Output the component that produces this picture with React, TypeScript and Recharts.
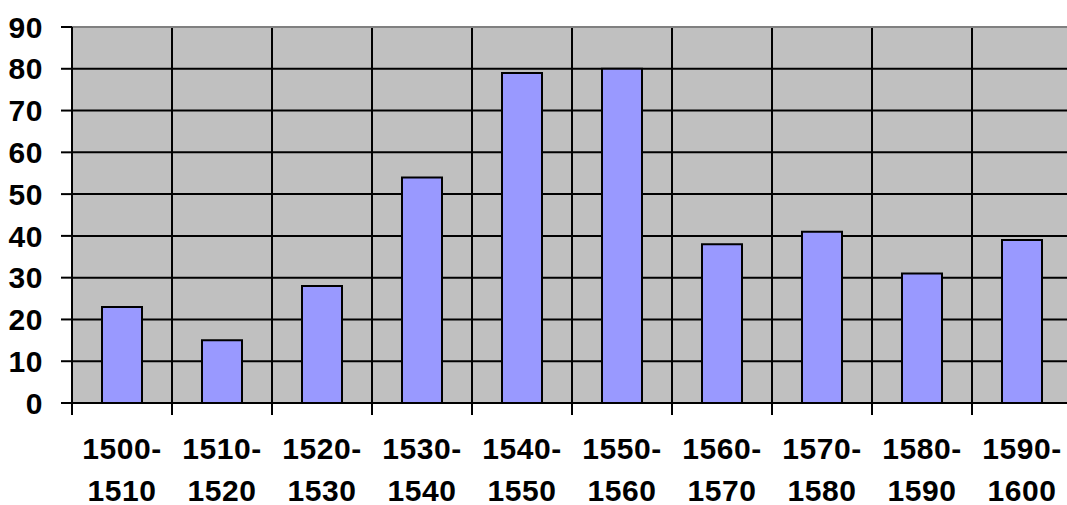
import React from 'react';
import { BarChart, Bar, XAxis, YAxis, CartesianGrid, ReferenceLine } from 'recharts';

const periodStarts = ['1500', '1510', '1520', '1530', '1540', '1550', '1560', '1570', '1580', '1590'];
const periodEnds = ['1510', '1520', '1530', '1540', '1550', '1560', '1570', '1580', '1590', '1600'];
const counts = [23, 15, 28, 54, 79, 80, 38, 41, 31, 39];
const yTicks = [0, 10, 20, 30, 40, 50, 60, 70, 80, 90];
const boundaryTicks = [0, 1, 2, 3, 4, 5, 6, 7, 8, 9, 10];

const data = periodStarts.map((s, i) => ({
    period: `${s}-${periodEnds[i]}`,
    idx: i,
    count: counts[i],
}));

const FONT = '"Liberation Sans", Arial, sans-serif';

// two-line period label: "1500-" over "1510"
const PeriodTick = (props: any) => {
    const { x, y, payload } = props;
    const [a, b] = String(payload.value).split('-');
    return (
        <text x={x} y={y} textAnchor="middle" fill="#000" fontFamily={FONT} fontWeight="bold" fontSize={30} letterSpacing={0.6}>
            <tspan x={x} dy={55}>{a}-</tspan>
            <tspan x={x} dy={42}>{b}</tspan>
        </text>
    );
};

const App: React.FC = () => {
    return (
        <div style={{ position: 'absolute', left: 0, top: 0, width: 1067, height: 505, overflow: 'hidden', background: '#fff' }}>
            <BarChart
                width={1080}
                height={505}
                data={data}
                margin={{ top: 27, right: 8, left: 12, bottom: 0 }}
            >
                {/* numeric axis only used for the boundary grid lines and tick marks */}
                <XAxis
                    xAxisId="a_grid"
                    type="number"
                    dataKey="idx"
                    scale="linear"
                    domain={[0, 10]}
                    allowDataOverflow
                    ticks={boundaryTicks}
                    interval={0}
                    height={1}
                    tickFormatter={() => ''}
                    tickSize={12}
                    tickLine={{ stroke: '#000', strokeWidth: 2 }}
                    axisLine={{ stroke: '#000', strokeWidth: 2 }}
                />
                <XAxis
                    xAxisId="b_cat"
                    dataKey="period"
                    height={101}
                    interval={0}
                    tickSize={0}
                    tickMargin={0}
                    tickLine={false}
                    axisLine={false}
                    tick={<PeriodTick />}
                />
                <YAxis
                    domain={[0, 90]}
                    ticks={yTicks}
                    interval={0}
                    width={60}
                    tickSize={11}
                    tickMargin={18}
                    tickLine={{ stroke: '#000', strokeWidth: 2 }}
                    axisLine={{ stroke: '#000', strokeWidth: 2 }}
                    tick={{ fill: '#000', fontFamily: FONT, fontWeight: 'bold', fontSize: 30, letterSpacing: 0.6 }}
                />
                <CartesianGrid
                    xAxisId="a_grid"
                    fill="#C0C0C0"
                    fillOpacity={1}
                    stroke="#000"
                    strokeWidth={2}
                />
                <ReferenceLine xAxisId="a_grid" y={90} stroke="#808080" strokeWidth={2} />
                <Bar
                    xAxisId="b_cat"
                    dataKey="count"
                    barSize={40}
                    fill="#9999FF"
                    stroke="#000"
                    strokeWidth={2}
                    isAnimationActive={false}
                />
            </BarChart>
        </div>
    );
};

export default App;
